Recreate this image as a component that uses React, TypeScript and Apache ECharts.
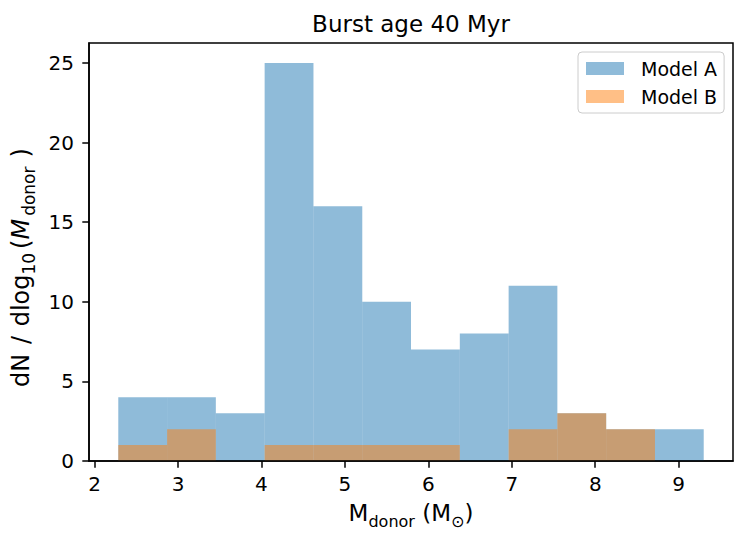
import React, { useEffect, useRef } from "react";
import * as echarts from "echarts";

const binEdges = [2.284, 2.869, 3.453, 4.038, 4.623, 5.208, 5.792, 6.377, 6.962, 7.546, 8.131, 8.716, 9.3];
const modelA = [4, 4, 3, 25, 16, 10, 7, 8, 11, 3, 2, 2];
const modelB = [1, 2, 0, 1, 1, 1, 1, 0, 2, 3, 2, 0];
const seriesNames = ["Model A", "Model B"];
const xTicks = [2, 3, 4, 5, 6, 7, 8, 9];
const yTicks = [0, 5, 10, 15, 20, 25];
const titleText = "Burst age 40 Myr";

const FONT = "DejaVu Sans";
const BLUE = "rgba(31,119,180,0.5)";
const ORANGE = "rgba(255,127,14,0.5)";

function histData(counts: number[]) {
  return counts.map((c, i) => [binEdges[i], binEdges[i + 1], c]);
}

function makeSeries(name: string, counts: number[], color: string) {
  return {
    name,
    type: "custom",
    z: 2,
    itemStyle: { color },
    encode: { x: [0, 1], y: 2 },
    data: histData(counts),
    renderItem: (params: any, api: any) => {
      const x0 = api.value(0);
      const x1 = api.value(1);
      const h = api.value(2);
      const p0 = api.coord([x0, h]);
      const p1 = api.coord([x1, 0]);
      return {
        type: "rect",
        shape: { x: p0[0], y: p0[1], width: p1[0] - p0[0], height: p1[1] - p0[1] },
        style: { fill: color },
      };
    },
  };
}

export default function App() {
  const ref = useRef<HTMLDivElement>(null);
  useEffect(() => {
    document.body.style.margin = "0";
    const chart = echarts.init(ref.current!, null, { renderer: "svg" });
    const base = { fontSize: 23, fontFamily: FONT, color: "#000" };
    const sub = { fontSize: 16, fontFamily: FONT, color: "#000", padding: [16, 0, 0, 0] };
    const yBase = { fontSize: 24, fontFamily: FONT, color: "#000" };
    const ySub = { fontSize: 17, fontFamily: FONT, color: "#000" };
    const yRich = {
      a: { ...yBase, padding: [0, 2, 0, 0] },
      b: { ...yBase, padding: [0, 2, 0, 0] },
      m: yBase,
      s10: { ...ySub, padding: [16, 4, 0, 0] },
      p: { ...yBase, padding: [0, 0, 0, 0] },
      mi: { ...yBase, fontStyle: "italic", padding: [0, 3, 0, 0] },
      sd: { ...ySub, padding: [16, 9, 0, 0] },
      e: { ...yBase, padding: [0, 31, 0, 0] },
    };
    chart.setOption({
      animation: false,
      backgroundColor: "#fff",
      textStyle: { fontFamily: FONT },
      grid: {
        left: 89,
        right: 15,
        top: 43,
        bottom: 83,
        show: true,
        borderColor: "#000",
        borderWidth: 1.5,
        backgroundColor: "transparent",
      },
      graphic: [
        {
          type: "text",
          x: 411,
          y: 23.6,
          z: 10,
          style: {
            text: titleText,
            fontSize: 23,
            fontFamily: FONT,
            fill: "#000",
            textAlign: "center",
            textVerticalAlign: "middle",
          },
        },
      ],
      legend: {
        orient: "vertical",
        left: 578,
        top: 52,
        selectedMode: false,
        data: [
          { name: seriesNames[0], icon: "rect", itemStyle: { color: BLUE } },
          { name: seriesNames[1], icon: "rect", itemStyle: { color: ORANGE } },
        ],
        itemWidth: 38,
        itemHeight: 13,
        itemGap: 9,
        textStyle: { fontSize: 19, fontFamily: FONT, color: "#000", padding: [0, 0, 0, 12] },
        backgroundColor: "#fff",
        borderColor: "#cccccc",
        borderWidth: 1,
        borderRadius: 4,
        padding: [7, 7, 7, 8],
      },
      xAxis: {
        type: "value",
        min: 1.933,
        max: 9.651,
        z: 5,
        splitLine: { show: false },
        axisLine: { show: true, onZero: false, lineStyle: { color: "#000", width: 1.5 } },
        axisTick: { show: true, length: 6.7, lineStyle: { color: "#000", width: 1.5 }, customValues: xTicks },
        axisLabel: { show: true, fontSize: 20, fontFamily: FONT, color: "#000", margin: 13, customValues: xTicks },
        name: "{m|M}{s|donor}{m| (M}{s|⊙}{m|)}",
        nameLocation: "middle",
        nameGap: 36,
        nameTextStyle: { ...base, rich: { m: base, s: sub } },
      },
      yAxis: {
        type: "value",
        min: 0,
        max: 26.25,
        z: 5,
        splitLine: { show: false },
        axisLine: { show: true, onZero: false, lineStyle: { color: "#000", width: 1.5 } },
        axisTick: { show: true, length: 6.7, lineStyle: { color: "#000", width: 1.5 }, customValues: yTicks },
        axisLabel: { show: true, fontSize: 20, fontFamily: FONT, color: "#000", margin: 15, customValues: yTicks },
        name: "{a|dN}{b| /}{m| dlog}{s10|10}{p|(}{mi|M}{sd|donor}{e|)}",
        nameLocation: "middle",
        nameRotate: 90,
        nameGap: 48,
        nameTextStyle: { ...yBase, rich: yRich },
      },
      series: [makeSeries(seriesNames[0], modelA, BLUE), makeSeries(seriesNames[1], modelB, ORANGE)],
    });
    return () => chart.dispose();
  }, []);
  return <div ref={ref} style={{ width: 748, height: 544 }} />;
}
